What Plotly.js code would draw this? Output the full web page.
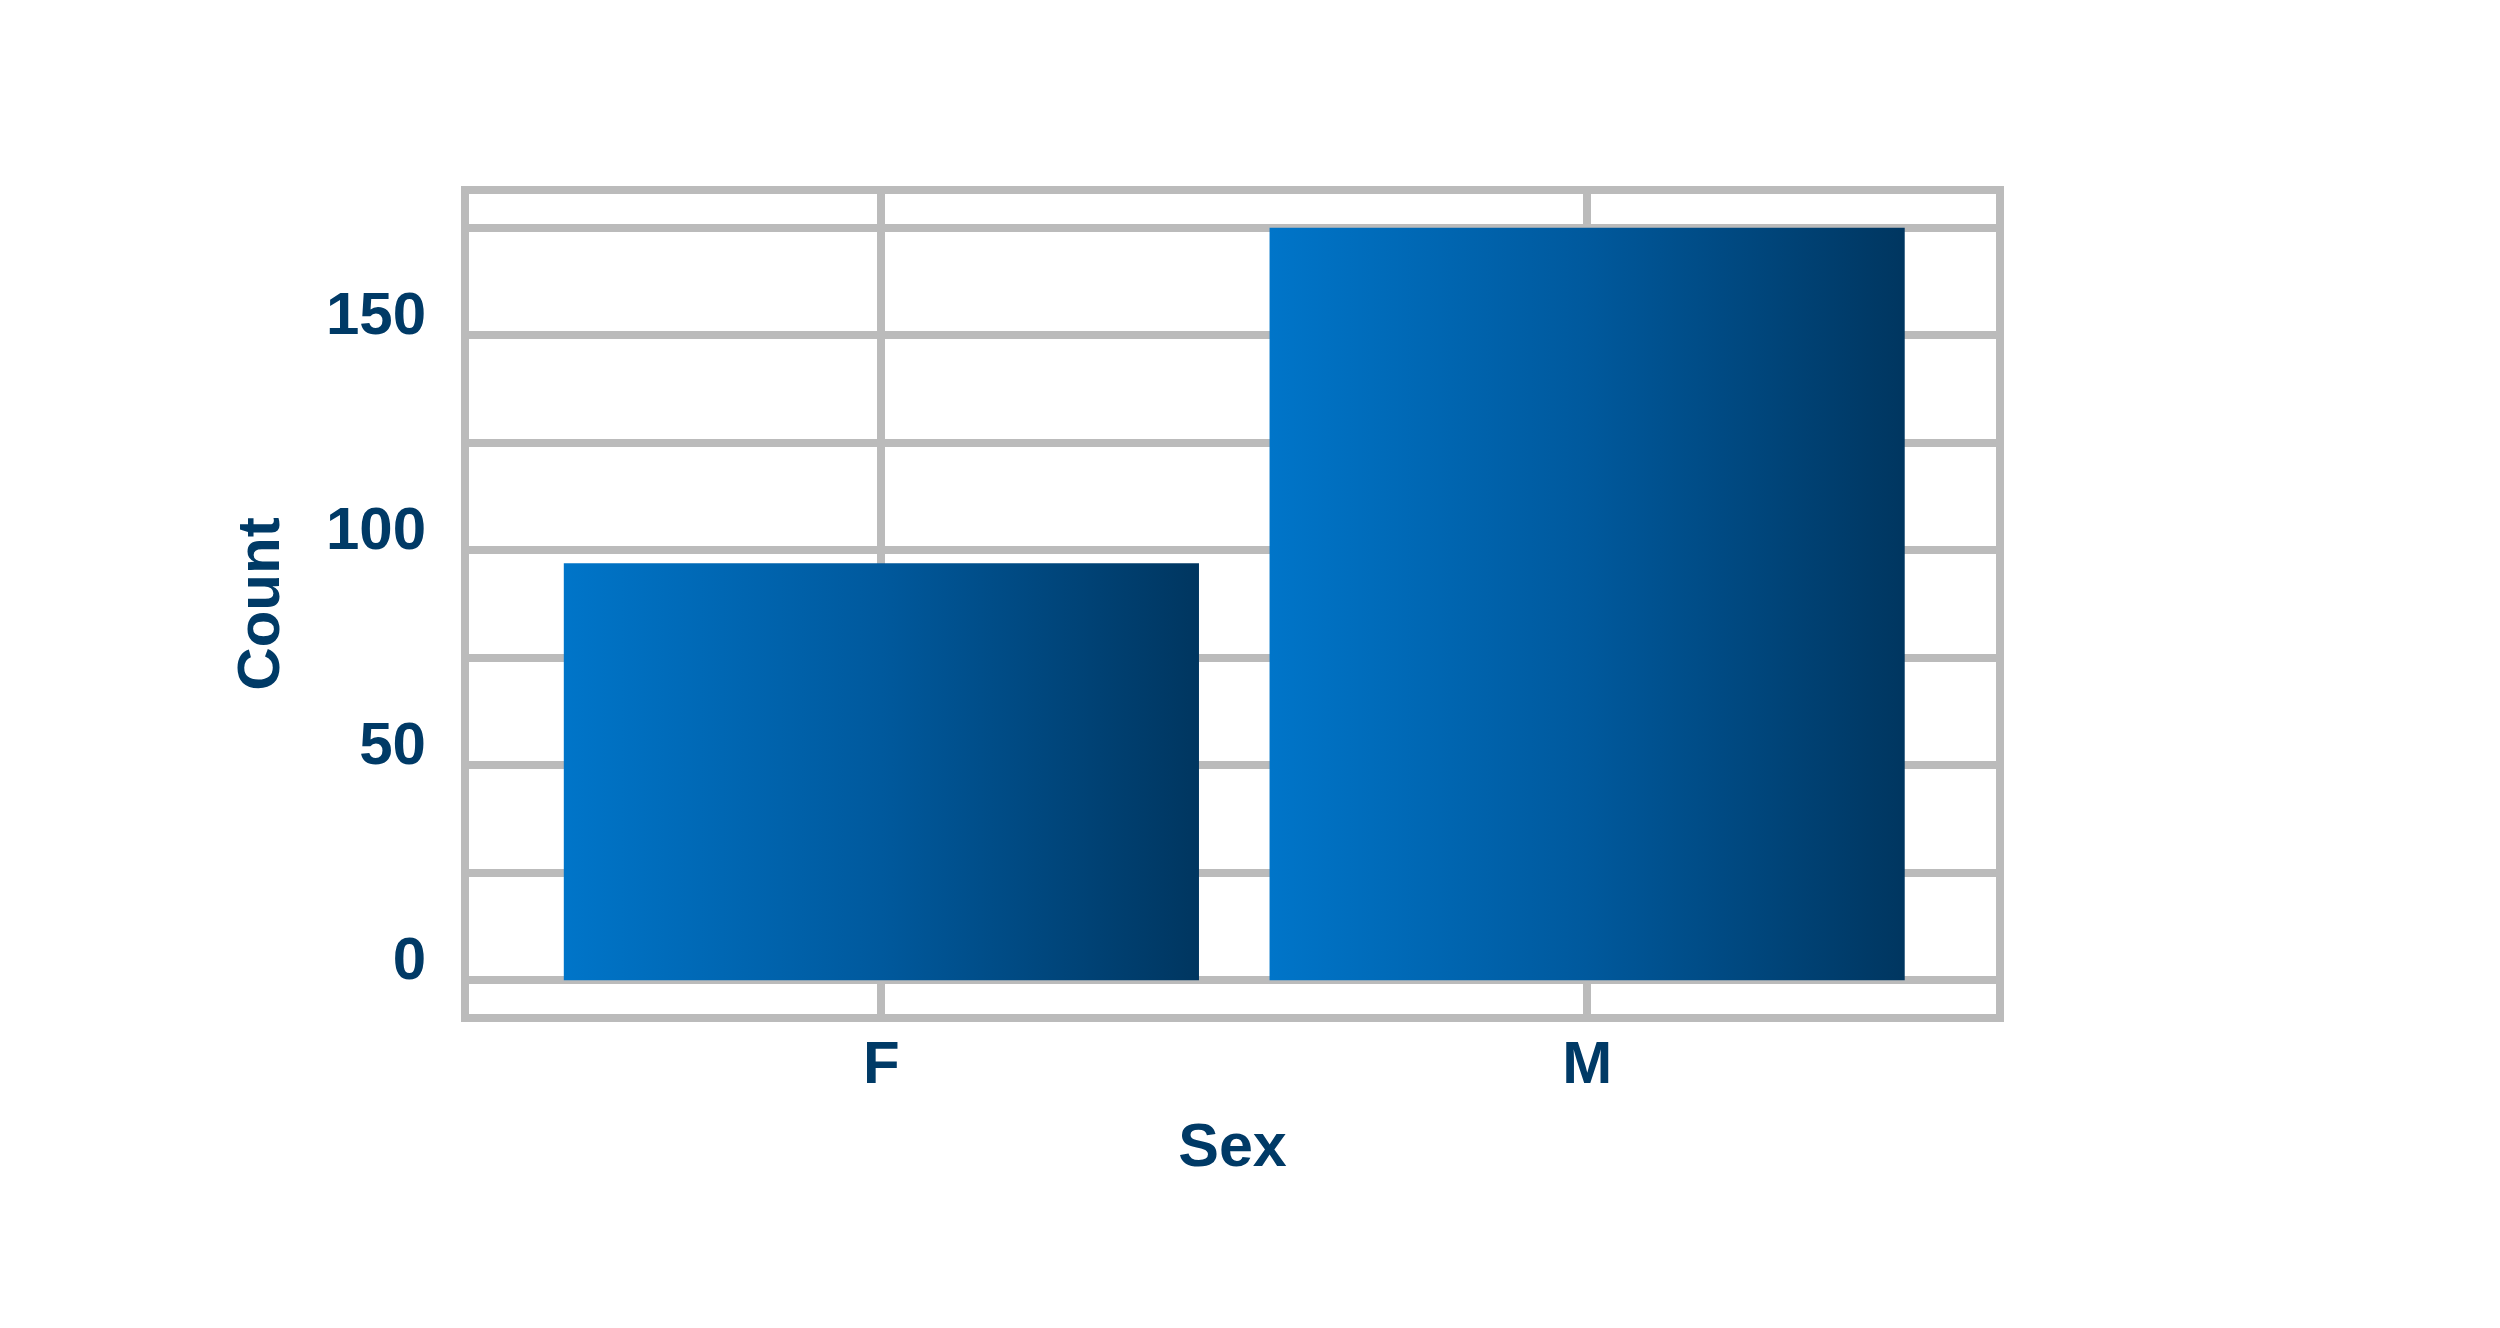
<!DOCTYPE html>
<html>
<head>
<meta charset="utf-8">
<script src="https://cdn.plot.ly/plotly-3.0.1.min.js"></script>
<style>
  html, body { margin: 0; padding: 0; background: #ffffff; }
  #chart { width: 2500px; height: 1328px; }
</style>
</head>
<body>
<div id="chart"></div>
<script>
// counts per sex
var sexes = ['F', 'M'];
var counts = [97, 175];
var yTicks = [0, 50, 100, 150];

var grid = '#BBBBBB';
var ink = '#003A66';
var fam = 'Liberation Sans, Arial, sans-serif';

var data = [
    {
        type: 'bar',
        x: sexes,
        y: counts,
        width: 0.9,
        marker: {
            color: '#005A9E',
            line: { width: 0 }
        },
        hoverinfo: 'x+y'
    }
];

var layout = {
    width: 2500,
    height: 1328,
    margin: { l: 465, r: 500, t: 190, b: 310 },
    paper_bgcolor: '#ffffff',
    plot_bgcolor: '#ffffff',
    showlegend: false,
    font: { family: fam, color: ink },
    xaxis: {
        type: 'category',
        range: [-0.59, 1.585],
        showgrid: true,
        gridcolor: grid,
        gridwidth: 8,
        zeroline: false,
        showline: false,
        ticks: '',
        ticklabelstandoff: 4,
        tickfont: { family: fam, size: 60, color: ink, weight: 'bold' },
        title: {
            text: '<b>Sex</b>',
            font: { family: fam, size: 61, color: ink },
            standoff: 28
        }
    },
    yaxis: {
        range: [-8.75, 183.75],
        tickvals: yTicks,
        showgrid: true,
        gridcolor: grid,
        gridwidth: 8,
        minor: { dtick: 25, tick0: 0, showgrid: true, gridcolor: grid, gridwidth: 8 },
        zeroline: false,
        showline: false,
        ticks: '',
        ticklabelstandoff: 38,
        ticklabelshift: -22,
        tickfont: { family: fam, size: 60, color: ink, weight: 'bold' },
        title: {
            text: '<b>Count</b>',
            font: { family: fam, size: 60, color: ink },
            standoff: 26
        }
    },
    shapes: [
        {
            type: 'rect',
            xref: 'paper', yref: 'paper',
            x0: 0, x1: 1, y0: 0, y1: 1,
            line: { color: grid, width: 8 },
            layer: 'above'
        }
    ]
};

Plotly.newPlot('chart', data, layout, { displayModeBar: false, staticPlot: true }).then(function (gd) {
    // horizontal blue gradient on each bar
    var ns = 'http://www.w3.org/2000/svg';
    var svg = gd.querySelector('svg.main-svg');
    var defs = svg.querySelector('defs');
    var grad = document.createElementNS(ns, 'linearGradient');
    grad.setAttribute('id', 'barGrad');
    grad.setAttribute('x1', '0');
    grad.setAttribute('x2', '1');
    grad.setAttribute('y1', '0');
    grad.setAttribute('y2', '0');
    var stops = [['0', '#0075C9'], ['0.5', '#00599D'], ['1', '#003660']];
    stops.forEach(function (s) {
        var st = document.createElementNS(ns, 'stop');
        st.setAttribute('offset', s[0]);
        st.setAttribute('stop-color', s[1]);
        grad.appendChild(st);
    });
    defs.appendChild(grad);
    gd.querySelectorAll('.barlayer .point path').forEach(function (p) {
        p.style.fill = 'url(#barGrad)';
    });
});
</script>
</body>
</html>
